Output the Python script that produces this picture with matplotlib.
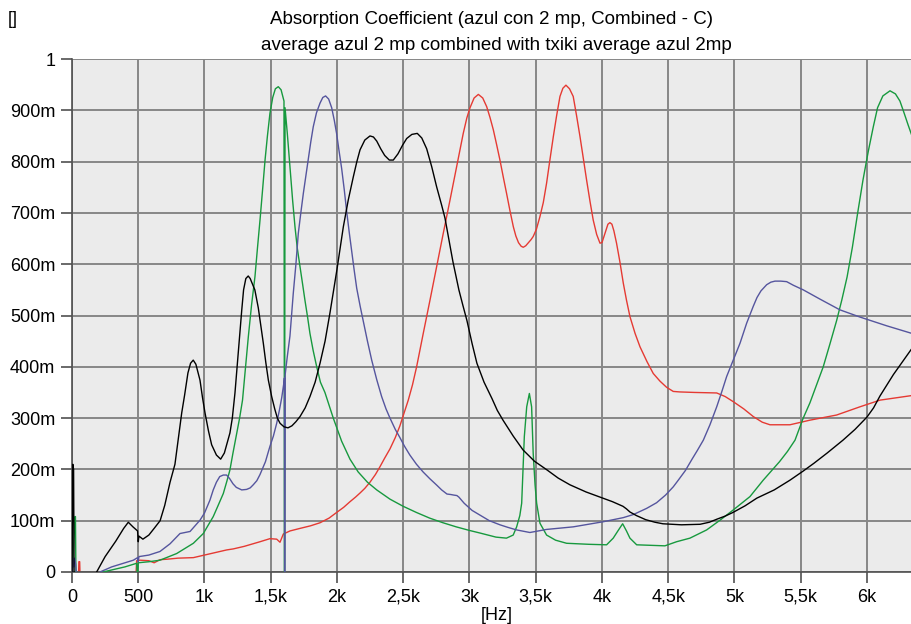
import matplotlib
matplotlib.use("Agg")
import matplotlib.pyplot as plt
from matplotlib.ticker import FixedLocator, FixedFormatter

plt.rcParams['font.family'] = ['Liberation Sans', 'DejaVu Sans']

# ---------------- data (Hz, absorption coefficient) ----------------
black_f = [0, 6, 12, 16, 150, 186, 250, 330, 390, 425, 460, 495, 500, 505, 535, 580, 620, 665, 700,
           740, 777, 800, 828, 850, 875, 895, 915, 935, 966, 985, 1004, 1030, 1054, 1090, 1122, 1150,
           1175, 1192, 1210, 1230, 1250, 1268, 1281, 1295, 1312, 1330, 1345, 1380, 1406, 1425, 1444,
           1463, 1482, 1507, 1530, 1550, 1570, 1600, 1630, 1660, 1690, 1721, 1760, 1796, 1835, 1872,
           1910, 1947, 2000, 2048, 2085, 2123, 2150, 2174, 2210, 2249, 2275, 2300, 2330, 2360, 2395,
           2425, 2460, 2495, 2526, 2565, 2606, 2640, 2677, 2715, 2752, 2790, 2815, 2850, 2875, 2920,
           2950, 2981, 3020, 3056, 3110, 3170, 3210, 3253, 3330, 3404, 3490, 3585, 3670, 3758, 3880,
           4007, 4080, 4159, 4185, 4211, 4260, 4330, 4400, 4460, 4600, 4740, 4810, 4868, 4930, 4988,
           5080, 5169, 5300, 5419, 5520, 5600, 5700, 5819, 5910, 6000, 6050, 6098, 6200, 6340]
black_v = [-0.02, 0.21, 0.20, -0.02, -0.02, 0.0, 0.03, 0.06, 0.085, 0.097, 0.088, 0.08, 0.059, 0.07,
           0.064, 0.072, 0.085, 0.10, 0.13, 0.175, 0.21, 0.255, 0.31, 0.345, 0.388, 0.407, 0.413,
           0.405, 0.374, 0.34, 0.31, 0.275, 0.248, 0.228, 0.22, 0.232, 0.255, 0.271, 0.30, 0.349,
           0.413, 0.47, 0.51, 0.55, 0.572, 0.577, 0.572, 0.55, 0.515, 0.48, 0.446, 0.408, 0.374,
           0.342, 0.318, 0.30, 0.29, 0.283, 0.281, 0.285, 0.293, 0.303, 0.32, 0.342, 0.37, 0.407,
           0.45, 0.505, 0.59, 0.673, 0.725, 0.77, 0.80, 0.823, 0.842, 0.850, 0.848, 0.84, 0.825,
           0.812, 0.803, 0.803, 0.815, 0.832, 0.845, 0.853, 0.855, 0.846, 0.825, 0.79, 0.751, 0.715,
           0.69, 0.64, 0.605, 0.55, 0.52, 0.49, 0.445, 0.407, 0.37, 0.338, 0.315, 0.296, 0.265,
           0.238, 0.216, 0.199, 0.183, 0.170, 0.156, 0.144, 0.137, 0.128, 0.123, 0.117, 0.11, 0.102,
           0.097, 0.094, 0.092, 0.093, 0.097, 0.103, 0.109, 0.116, 0.129, 0.144, 0.16, 0.179, 0.197,
           0.212, 0.232, 0.257, 0.278, 0.302, 0.32, 0.343, 0.385, 0.436]

green_f = [0, 22, 26, 30, 234, 300, 400, 488, 495, 500, 580, 664, 790, 916, 991, 1066, 1100, 1142,
           1170, 1192, 1215, 1243, 1265, 1287, 1310, 1331, 1355, 1381, 1400, 1419, 1440, 1457, 1475,
           1494, 1515, 1535, 1557, 1578, 1600, 1604, 1608, 1625, 1645, 1665, 1683, 1700, 1721, 1740,
           1758, 1778, 1796, 1820, 1847, 1875, 1909, 1972, 2035, 2098, 2160, 2230, 2300, 2400, 2500,
           2600, 2700, 2800, 2900, 3000, 3079, 3200, 3279, 3330, 3356, 3380, 3394, 3414, 3432, 3452,
           3469, 3481, 3495, 3507, 3532, 3582, 3650, 3733, 3900, 4035, 4085, 4120, 4156, 4185, 4211,
           4262, 4475, 4563, 4664, 4790, 4891, 4991, 5117, 5217, 5340, 5400, 5457, 5519, 5570, 5620,
           5670, 5720, 5771, 5810, 5850, 5890, 5930, 5970, 6010, 6048, 6080, 6120, 6174, 6215, 6249,
           6280, 6310, 6340]
green_v = [-0.02, 0.108, 0.108, -0.02, 0.0, 0.004, 0.01, 0.017, -0.02, 0.018, 0.02, 0.023, 0.036,
           0.056, 0.075, 0.108, 0.128, 0.153, 0.178, 0.199, 0.232, 0.27, 0.30, 0.335, 0.40, 0.459,
           0.52, 0.576, 0.632, 0.686, 0.75, 0.803, 0.85, 0.894, 0.925, 0.942, 0.946, 0.94, 0.918,
           -0.02, 0.905, 0.855, 0.79, 0.725, 0.673, 0.632, 0.595, 0.562, 0.53, 0.497, 0.465, 0.432,
           0.40, 0.37, 0.35, 0.30, 0.255, 0.22, 0.195, 0.175, 0.16, 0.142, 0.128, 0.116, 0.105,
           0.096, 0.088, 0.081, 0.076, 0.068, 0.066, 0.072, 0.088, 0.11, 0.134, 0.264, 0.322, 0.348,
           0.322, 0.231, 0.17, 0.134, 0.095, 0.072, 0.062, 0.056, 0.054, 0.053, 0.066, 0.08, 0.094,
           0.08, 0.066, 0.053, 0.051, 0.059, 0.066, 0.082, 0.101, 0.121, 0.147, 0.179, 0.215, 0.235,
           0.257, 0.30, 0.33, 0.365, 0.40, 0.444, 0.49, 0.53, 0.575, 0.633, 0.70, 0.764, 0.82, 0.868,
           0.905, 0.928, 0.938, 0.932, 0.918, 0.895, 0.872, 0.85]

blue_f = [0, 8, 14, 20, 28, 38, 200, 211, 300, 400, 463, 495, 500, 505, 580, 664, 740, 815, 891, 966,
          1000, 1041, 1066, 1090, 1115, 1142, 1167, 1190, 1215, 1240, 1281, 1318, 1345, 1368, 1395,
          1419, 1460, 1494, 1520, 1545, 1565, 1583, 1600, 1603, 1605, 1609, 1625, 1645, 1670, 1690,
          1708, 1727, 1746, 1765, 1783, 1802, 1821, 1845, 1872, 1893, 1914, 1937, 1960, 1980, 1997,
          2015, 2035, 2055, 2073, 2092, 2111, 2130, 2149, 2175, 2199, 2230, 2262, 2300, 2337, 2370,
          2400, 2440, 2475, 2510, 2550, 2600, 2650, 2700, 2750, 2790, 2830, 2860, 2880, 2905, 2920,
          2940, 2960, 2990, 3020, 3079, 3150, 3230, 3290, 3356, 3456, 3582, 3783, 4010, 4161, 4237,
          4337, 4412, 4480, 4538, 4576, 4630, 4680, 4720, 4765, 4815, 4866, 4905, 4941, 4991, 5042,
          5092, 5142, 5170, 5200, 5243, 5275, 5306, 5350, 5394, 5444, 5519, 5645, 5796, 5947, 6148,
          6340]
blue_v = [-0.02, 0.027, 0.01, 0.027, 0.015, -0.02, -0.02, 0.0, 0.01, 0.018, 0.023, 0.028, 0.02, 0.03,
          0.033, 0.040, 0.055, 0.075, 0.079, 0.101, 0.115, 0.14, 0.16, 0.175, 0.186, 0.189, 0.189,
          0.182, 0.172, 0.165, 0.160, 0.161, 0.164, 0.17, 0.178, 0.19, 0.215, 0.245, 0.265, 0.29,
          0.315, 0.34, 0.37, 0.378, -0.02, 0.385, 0.42, 0.46, 0.543, 0.60, 0.66, 0.70, 0.738, 0.772,
          0.803, 0.838, 0.868, 0.895, 0.914, 0.925, 0.928, 0.922, 0.905, 0.88, 0.855, 0.822, 0.787,
          0.745, 0.703, 0.663, 0.625, 0.588, 0.553, 0.518, 0.488, 0.45, 0.413, 0.375, 0.342, 0.318,
          0.30, 0.278, 0.262, 0.245, 0.228, 0.21, 0.195, 0.182, 0.170, 0.16, 0.152, 0.151, 0.150,
          0.149, 0.146, 0.14, 0.134, 0.127, 0.120, 0.111, 0.10, 0.092, 0.087, 0.082, 0.077, 0.083,
          0.088, 0.098, 0.106, 0.112, 0.124, 0.135, 0.15, 0.166, 0.179, 0.198, 0.22, 0.237, 0.257,
          0.287, 0.322, 0.352, 0.381, 0.413, 0.446, 0.485, 0.518, 0.535, 0.548, 0.560, 0.565, 0.567,
          0.567, 0.566, 0.559, 0.550, 0.532, 0.511, 0.497, 0.480, 0.465]

red_f = [0, 48, 52, 58, 62, 480, 488, 513, 580, 620, 664, 720, 800, 916, 966, 1050, 1167, 1217, 1300,
         1419, 1494, 1545, 1570, 1595, 1645, 1721, 1800, 1872, 1940, 1997, 2050, 2098, 2140, 2174,
         2210, 2249, 2290, 2324, 2360, 2400, 2440, 2475, 2538, 2570, 2601, 2651, 2702, 2752, 2802,
         2853, 2903, 2953, 2980, 3004, 3035, 3067, 3100, 3130, 3155, 3180, 3205, 3230, 3255, 3280,
         3305, 3331, 3350, 3370, 3390, 3406, 3425, 3445, 3465, 3481, 3505, 3532, 3557, 3582, 3608,
         3633, 3658, 3683, 3705, 3728, 3755, 3783, 3808, 3834, 3860, 3884, 3910, 3934, 3960, 3985,
         4000, 4025, 4045, 4060, 4075, 4090, 4110, 4135, 4161, 4185, 4211, 4250, 4287, 4340, 4387,
         4438, 4488, 4538, 4588, 4700, 4866, 4930, 4991, 5070, 5142, 5210, 5268, 5419, 5570, 5771,
         5947, 6098, 6340]
red_v = [-0.02, -0.02, 0.02, 0.02, -0.02, -0.02, 0.022, 0.023, 0.022, 0.018, 0.024, 0.025, 0.027,
         0.028, 0.031, 0.036, 0.043, 0.045, 0.05, 0.059, 0.065, 0.064, 0.058, 0.074, 0.080, 0.085,
         0.09, 0.096, 0.105, 0.116, 0.126, 0.137, 0.146, 0.154, 0.163, 0.175, 0.19, 0.205, 0.222,
         0.24, 0.262, 0.285, 0.335, 0.365, 0.40, 0.465, 0.53, 0.595, 0.66, 0.725, 0.79, 0.855,
         0.885, 0.905, 0.924, 0.931, 0.924, 0.907, 0.886, 0.862, 0.833, 0.803, 0.77, 0.738, 0.705,
         0.673, 0.655, 0.642, 0.635, 0.633, 0.636, 0.642, 0.648, 0.654, 0.668, 0.693, 0.72, 0.758,
         0.805, 0.849, 0.89, 0.927, 0.943, 0.949, 0.942, 0.927, 0.89, 0.849, 0.805, 0.764, 0.722,
         0.686, 0.658, 0.641, 0.642, 0.662, 0.678, 0.681, 0.678, 0.665, 0.641, 0.605, 0.563, 0.53,
         0.498, 0.465, 0.439, 0.41, 0.387, 0.372, 0.36, 0.352, 0.351, 0.35, 0.349, 0.342, 0.332,
         0.318, 0.303, 0.292, 0.287, 0.287, 0.296, 0.306, 0.322, 0.335, 0.344]

x_ticks = [0, 500, 1000, 1500, 2000, 2500, 3000, 3500, 4000, 4500, 5000, 5500, 6000]
x_labels = ['0', '500', '1k', '1,5k', '2k', '2,5k', '3k', '3,5k', '4k', '4,5k', '5k', '5,5k', '6k']
y_ticks = [0, 0.1, 0.2, 0.3, 0.4, 0.5, 0.6, 0.7, 0.8, 0.9, 1.0]
y_labels = ['0', '100m', '200m', '300m', '400m', '500m', '600m', '700m', '800m', '900m', '1']

title1 = 'Absorption Coefficient (azul con 2 mp, Combined - C)'
title2 = 'average azul 2 mp combined with txiki average azul 2mp'

# ---------------- figure ----------------
W, H = 912, 624
fig = plt.figure(figsize=(W / 100, H / 100), dpi=100)
fig.patch.set_facecolor('white')
ax = fig.add_axes([72 / W, (H - 572) / H, 840 / W, 513 / H])
ax.set_facecolor('#EBEBEB')

ax.set_xlim(0, 6340)
ax.set_ylim(0, 1)

ax.xaxis.set_major_locator(FixedLocator(x_ticks))
ax.xaxis.set_major_formatter(FixedFormatter(x_labels))
ax.yaxis.set_major_locator(FixedLocator(y_ticks))
ax.yaxis.set_major_formatter(FixedFormatter(y_labels))

ax.grid(True, color='#878787', linewidth=1.4)
ax.set_axisbelow(True)

for s in ['top', 'right']:
    ax.spines[s].set_visible(False)
for s in ['left', 'bottom']:
    ax.spines[s].set_color('#505050')
    ax.spines[s].set_linewidth(1.2)

ax.tick_params(axis='both', direction='out', length=8, width=1.2, color='#505050',
               labelsize=13, labelcolor='black', pad=4)

lw = 1.0
ax.plot(red_f, red_v, color='#E53A33', lw=lw, zorder=2)
ax.plot(green_f, green_v, color='#17993E', lw=lw, zorder=3)
ax.plot(blue_f, blue_v, color='#55559E', lw=lw, zorder=4)
ax.plot(black_f, black_v, color='#000000', lw=lw, zorder=5)

fig.text(492 / W, 1 - 20 / H, title1, ha='center', va='center', fontsize=13.5)
fig.text(496 / W, 1 - 46 / H, title2, ha='center', va='center', fontsize=13.5)
fig.text(8 / W, 1 - 20 / H, '[]', ha='left', va='center', fontsize=13)
fig.text(497 / W, 1 - 615 / H, '[Hz]', ha='center', va='center', fontsize=13)

fig.savefig('out.png', dpi=100)
